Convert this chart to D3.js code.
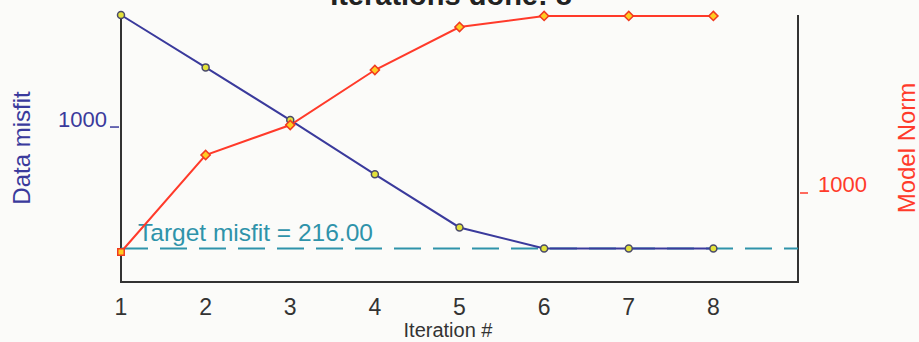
<!DOCTYPE html>
<html><head><meta charset="utf-8">
<script src="https://cdn.jsdelivr.net/npm/d3@7"></script>
<style>body{margin:0;background:#fbfbf9;}svg{display:block;}</style>
</head><body>
<svg id="c" width="919" height="342"></svg>
<script>
const iterations = [1,2,3,4,5,6,7,8];
const dataMisfit = [1723, 1385, 1045, 695, 352, 216, 216, 216];
const modelNorm = [337, 1427, 1764, 2382, 2865, 2989, 2989, 2989];
const targetMisfit = 216;
const xTicks = [1,2,3,4,5,6,7,8];
const leftTicks = [1000];
const rightTicks = [1000];
const titleText = "Iterations done: 8";

const svg = d3.select("#c");
const font = "'Liberation Sans', Arial, sans-serif";
const x = d3.scaleLinear().domain([1,9]).range([121,798]);
const yL = d3.scaleLinear().domain([0,1723]).range([282,15]);
const yR = d3.scaleLinear().domain([0,3000]).range([282,15]);

const blue = "#3a3a9c", red = "#ff3a2a", teal = "#2f93aa", dark = "#333";

// title (cut off at the top, as in the reference)
svg.append("text").attr("x",451).attr("y",5).attr("text-anchor","middle")
  .attr("font-family",font).attr("font-weight","bold").attr("font-size",29)
  .attr("fill","#222").text(titleText);

// axes frame
svg.append("line").attr("x1",x(1)).attr("x2",x(1)).attr("y1",15).attr("y2",282).attr("stroke",dark).attr("stroke-width",2);
svg.append("line").attr("x1",x(9)).attr("x2",x(9)).attr("y1",15).attr("y2",282).attr("stroke",dark).attr("stroke-width",2);
svg.append("line").attr("x1",x(1)-1).attr("x2",x(9)+1).attr("y1",282).attr("y2",282).attr("stroke",dark).attr("stroke-width",2);

// x tick labels
svg.selectAll(".xt").data(xTicks).join("text")
  .attr("x",d=>x(d)).attr("y",315).attr("text-anchor","middle")
  .attr("font-family",font).attr("font-size",23).attr("fill",dark).text(d=>d);
svg.append("text").attr("x",448).attr("y",337).attr("text-anchor","middle")
  .attr("font-family",font).attr("font-size",20).attr("fill",dark).text("Iteration #");

// left ticks
leftTicks.forEach(t=>{
  svg.append("line").attr("x1",110).attr("x2",119).attr("y1",yL(t)).attr("y2",yL(t)).attr("stroke",blue).attr("stroke-width",1.5);
  svg.append("text").attr("x",107).attr("y",yL(t)).attr("text-anchor","end")
    .attr("font-family",font).attr("font-size",22).attr("fill",blue).text(t);
});
rightTicks.forEach(t=>{
  svg.append("line").attr("x1",800).attr("x2",808).attr("y1",yR(t)).attr("y2",yR(t)).attr("stroke",red).attr("stroke-width",1.5);
  svg.append("text").attr("x",818).attr("y",yR(t)-1)
    .attr("font-family",font).attr("font-size",22).attr("fill",red).text(t);
});

// axis titles
svg.append("text").attr("transform","translate(30,148) rotate(-90)").attr("text-anchor","middle")
  .attr("font-family",font).attr("font-size",24).attr("fill",blue).text("Data misfit");
svg.append("text").attr("transform","translate(915,148) rotate(-90)").attr("text-anchor","middle")
  .attr("font-family",font).attr("font-size",24).attr("fill",red).text("Model Norm");

// target line
svg.append("line").attr("x1",x(1)).attr("x2",x(9)).attr("y1",yL(targetMisfit)).attr("y2",yL(targetMisfit))
  .attr("stroke",teal).attr("stroke-width",2).attr("stroke-dasharray","27,12");
svg.append("text").attr("x",138).attr("y",yL(targetMisfit)-8)
  .attr("font-family",font).attr("font-size",24.5).attr("fill",teal).text("Target misfit = " + targetMisfit.toFixed(2));

// lines
const lineL = d3.line().x((d,i)=>x(iterations[i])).y(d=>yL(d));
const lineR = d3.line().x((d,i)=>x(iterations[i])).y(d=>yR(d));
svg.append("path").attr("d",lineL(dataMisfit)).attr("fill","none").attr("stroke",blue).attr("stroke-width",2);
svg.append("path").attr("d",lineR(modelNorm)).attr("fill","none").attr("stroke",red).attr("stroke-width",2);

// markers
svg.selectAll(".mb").data(dataMisfit).join("circle")
  .attr("cx",(d,i)=>x(iterations[i])).attr("cy",d=>yL(d)).attr("r",3.5)
  .attr("fill","#e3e23a").attr("stroke","#4a4a6a").attr("stroke-width",1.5);
const sq = d3.symbol().type(d3.symbolSquare).size(42);
svg.selectAll(".mr").data(modelNorm).join("path")
  .attr("transform",(d,i)=>`translate(${x(iterations[i])},${yR(d)}) rotate(${i===0?0:45})`)
  .attr("d",sq())
  .attr("fill","#ffcc22").attr("stroke","#f03a20").attr("stroke-width",1.5);
</script>
</body></html>
